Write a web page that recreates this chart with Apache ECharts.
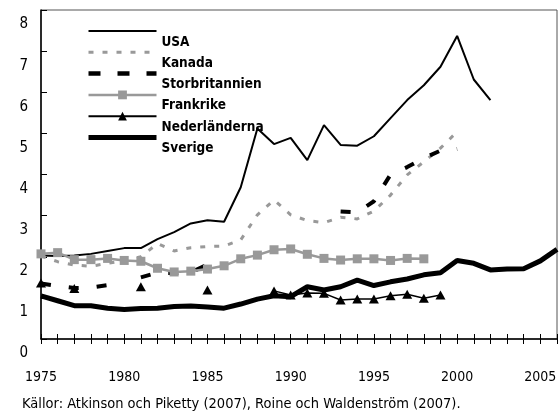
<!DOCTYPE html>
<html>
<head>
    <meta charset="utf-8">
    <title>Toppinkomstandelar</title>
    <script src="https://cdn.jsdelivr.net/npm/echarts@6.0.0/dist/echarts.min.js"></script>
    <style>
        html, body {margin: 0; padding: 0; background: #fff;}
        #main {width: 560px; height: 414px;}
    </style>
</head>
<body>
<div id="main"></div>
<script>
    var years = [1975, 1976, 1977, 1978, 1979, 1980, 1981, 1982, 1983, 1984, 1985, 1986, 1987, 1988, 1989, 1990,
        1991, 1992, 1993, 1994, 1995, 1996, 1997, 1998, 1999, 2000, 2001, 2002, 2003, 2004, 2005, 2006];

    var usa = [2.03, 2.02, 2.03, 2.07, 2.14, 2.21, 2.21, 2.43, 2.60, 2.81, 2.89, 2.85, 3.69, 5.12, 4.74, 4.89,
        4.35, 5.20, 4.72, 4.70, 4.93, 5.37, 5.81, 6.17, 6.62, 7.37, 6.31, 5.81, null, null, null, null];
    var kanada = [2.02, 1.88, 1.80, 1.77, 1.84, 1.90, 2.00, 2.32, 2.14, 2.22, 2.25, 2.26, 2.41, 3.02, 3.38, 3.02,
        2.88, 2.83, 2.96, 2.92, 3.11, 3.50, 3.99, 4.31, 4.64, 5.04, null, null, null, null, null, null];
    var storbritannien = [1.35, 1.29, 1.24, 1.25, 1.31, null, 1.50, 1.61, 1.60, 1.62, 1.81, null, null, null, null, null,
        null, null, 3.10, 3.08, 3.35, 4.00, 4.18, 4.40, 4.58, 4.62, null, null, null, null, null, null];
    var frankrike = [2.07, 2.10, 1.93, 1.93, 1.96, 1.91, 1.89, 1.72, 1.63, 1.65, 1.70, 1.78, 1.95, 2.04, 2.17, 2.19,
        2.06, 1.96, 1.92, 1.95, 1.95, 1.91, 1.96, 1.95, null, null, null, null, null, null, null, null];
    var nederlanderna = [1.36, null, 1.23, null, null, null, 1.27, null, null, null, 1.19, null, null, null, 1.17, 1.07,
        1.12, 1.11, 0.95, 0.97, 0.97, 1.05, 1.09, 0.99, 1.07, null, null, null, null, null, null, null];
    var sverige = [1.05, 0.93, 0.81, 0.81, 0.75, 0.72, 0.74, 0.75, 0.79, 0.80, 0.78, 0.75, 0.85, 0.97, 1.05, 1.03,
        1.27, 1.19, 1.27, 1.43, 1.30, 1.39, 1.46, 1.56, 1.61, 1.91, 1.84, 1.68, 1.70, 1.71, 1.90, 2.18];

    var kalla = 'Källor: Atkinson och Piketty (2007), Roine och Waldenström (2007).';
    var font = "'DejaVu Sans Condensed', 'DejaVu Sans', sans-serif";

    function pairs(arr) {
        return years.map(function (y, i) {
            return [y, arr[i]];
        });
    }

    var myChart = echarts.init(document.getElementById('main'), null, {renderer: 'canvas'});

    var option = {
        animation: false,
        textStyle: {fontFamily: font},
        title: {
            text: kalla,
            left: 22, top: 397, padding: 0,
            textStyle: {fontFamily: font, fontSize: 14.5, fontWeight: 'normal', color: '#000'}
        },
        grid: {
            left: 41, top: 10, right: 1, bottom: 75,
            show: true, borderColor: '#555', borderWidth: 1
        },
        legend: {
            orient: 'vertical', left: 86, top: 9, padding: 0,
            itemWidth: 68, itemHeight: 11, itemGap: -22.7,
            selectedMode: false,
            // texten ligger en halv rad under linjen, som i originalet
            formatter: function (name) {
                return '\n' + name;
            },
            textStyle: {fontFamily: font, fontSize: 13.5, fontWeight: 'bold', color: '#000', lineHeight: 22},
            data: [
                {name: 'USA', itemStyle: {opacity: 0}, lineStyle: {width: 2}},
                {name: 'Kanada', itemStyle: {opacity: 0}, lineStyle: {width: 3, type: [5, 9]}},
                {name: 'Storbritannien', itemStyle: {opacity: 0}, lineStyle: {width: 4.5, type: [12, 17]}},
                {name: 'Frankrike', lineStyle: {width: 2.5}},
                {name: 'Nederländerna', lineStyle: {width: 2}},
                {name: 'Sverige', itemStyle: {opacity: 0}, lineStyle: {width: 5}}
            ]
        },
        xAxis: [{
            type: 'value', min: 1975, max: 2006, interval: 1,
            axisLine: {lineStyle: {color: '#000', width: 1.5}},
            axisTick: {length: 5, lineStyle: {color: '#000'}},
            splitLine: {show: false},
            axisLabel: {
                margin: 31, fontSize: 14, color: '#000', fontFamily: font,
                formatter: function (v) {
                    return v % 5 === 0 ? String(v) : '';
                }
            }
        }, {
            type: 'value', min: 1975, max: 2006, interval: 1, position: 'bottom',
            axisLine: {show: false},
            axisTick: {inside: true, length: 5, lineStyle: {color: '#000'}},
            axisLabel: {show: false},
            splitLine: {show: false}
        }],
        yAxis: {
            type: 'value', min: 0, max: 8, interval: 1,
            axisLine: {show: true, lineStyle: {color: '#000', width: 1.5}},
            axisTick: {show: true, inside: true, length: 6, lineStyle: {color: '#000'}},
            splitLine: {show: false},
            axisLabel: {
                margin: 13, fontSize: 15, color: '#000', fontFamily: font,
                verticalAlign: 'top', padding: [7, 0, 0, 0]
            }
        },
        series: [
            {
                name: 'USA', type: 'line', data: pairs(usa), symbol: 'none',
                color: '#000', lineStyle: {color: '#000', width: 2}
            },
            {
                name: 'Kanada', type: 'line', data: pairs(kanada), symbol: 'none',
                color: '#999', lineStyle: {color: '#999', width: 3, type: [5, 9]}
            },
            {
                name: 'Storbritannien', type: 'line', data: pairs(storbritannien), symbol: 'none',
                color: '#000', lineStyle: {color: '#000', width: 4, type: [10, 18]}
            },
            {
                name: 'Frankrike', type: 'line', data: pairs(frankrike), symbol: 'rect', symbolSize: 9,
                color: '#999', itemStyle: {color: '#999'}, lineStyle: {color: '#999', width: 2.5}
            },
            {
                name: 'Nederländerna', type: 'line', data: pairs(nederlanderna), symbol: 'triangle', symbolSize: [10, 9],
                color: '#000', itemStyle: {color: '#000'}, lineStyle: {color: '#000', width: 1.5}
            },
            {
                name: 'Sverige', type: 'line', data: pairs(sverige), symbol: 'none',
                color: '#000', lineStyle: {color: '#000', width: 5}
            }
        ]
    };

    myChart.setOption(option);
</script>
</body>
</html>
